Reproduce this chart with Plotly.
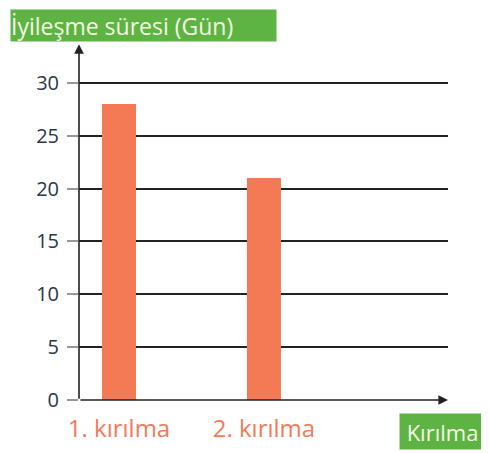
import plotly.graph_objects as go

categories = ["1. kırılma", "2. kırılma"]
days = [28, 21]
y_ticks = [0, 5, 10, 15, 20, 25, 30]

bar_color = "#F47A56"
green = "#5DB442"

fig = go.Figure([go.Bar(x=categories, y=days, marker=dict(color=bar_color, line=dict(width=0)), width=0.235)])

# page body adds 8px offset, so margins are shifted
fig.update_layout(
  width=489, height=453,
  margin=dict(l=71, r=49, t=38, b=61),
  paper_bgcolor="white", plot_bgcolor="white",
  showlegend=False,
  font=dict(family="Open Sans, sans-serif"),
)

fig.update_xaxes(
  type="category", range=[-0.276, 2.27],
  showgrid=False, zeroline=False, showline=False,
  ticks="", tickfont=dict(size=24, color=bar_color), ticklabelstandoff=12,
)
fig.update_yaxes(
  range=[0, 33.5], tickvals=y_ticks,
  showgrid=True, gridcolor="#222", gridwidth=1.5,
  zeroline=False, showline=False,
  ticks="outside", ticklen=11, tickcolor="#999", tickwidth=1.5,
  tickfont=dict(size=20, color="#2b3646"), ticklabelstandoff=4,
)

# axes drawn as arrows
fig.add_annotation(xref="paper", yref="paper", x=0, y=1.005, ax=0, ay=356,
                   text="", showarrow=True, arrowhead=2, arrowsize=1.2, arrowwidth=1.6, arrowcolor="#222")
fig.add_annotation(xref="paper", yref="paper", x=1.0, y=0, ax=-369, ay=0,
                   text="", showarrow=True, arrowhead=2, arrowsize=1.2, arrowwidth=1.6, arrowcolor="#222")

# green label boxes
fig.add_annotation(xref="paper", yref="paper", x=-0.187, y=1.104, xanchor="left", yanchor="top",
                   text="İyileşme süresi (Gün)", showarrow=False, bgcolor=green,
                   font=dict(size=23, color="#f7f7e6"), width=265, height=31, align="left", borderpad=0)
fig.add_annotation(xref="paper", yref="paper", x=0.868, y=-0.0367, xanchor="left", yanchor="top",
                   text="Kırılma", showarrow=False, bgcolor=green,
                   font=dict(size=22, color="#f7f7e6"), width=85, height=35, align="center", borderpad=0)

fig.write_html("out.html")
